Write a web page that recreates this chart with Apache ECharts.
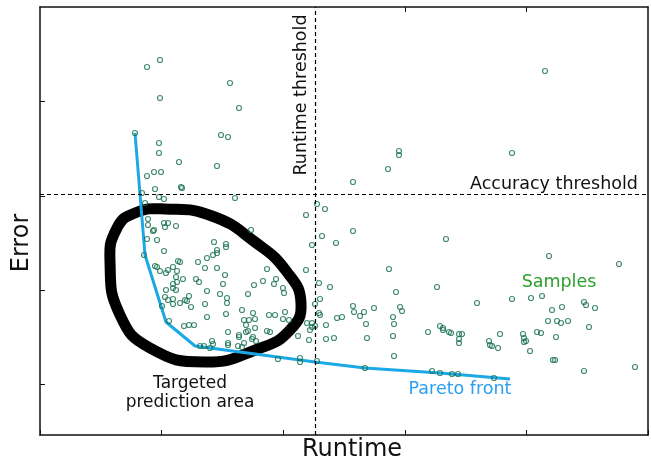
<!DOCTYPE html>
<html>
<head>
<meta charset="utf-8">
<script src="https://cdn.jsdelivr.net/npm/echarts@6/dist/echarts.min.js"></script>
<style>
html,body{margin:0;padding:0;background:#fff;}
#chart{width:651px;height:462px;}
</style>
</head>
<body>
<div id="chart"></div>
<script>
// Axis ranges (arbitrary units, axes have no labels)
const runtimeRange = [0, 608];
const errorRange = [0, 428];
const runtimeTickStep = 121.6;
const errorTicks = [50.7, 144.9, 239.1, 333.3];
const topRuntimeTicks = [364.8, 486.4];

// Thresholds
const runtimeThreshold = 275;
const accuracyThreshold = 241;

// Samples [runtime, error]
const samples = [
  [120,375],[107,368],[120,337],[190,352],[199,327],[95,302],[119,292],[119,282],[181,300],[188,298],
  [139,273],[177,269],[107,259],[114,263],[121,263],[115,246],[141,248],[142,247],[102,242],[359,284],
  [359,280],[348,266],[313,253],[505,364],[472,282],
  [105,232],[119,238],[124,236],[195,237],[277,231],[285,226],[266,220],[108,216],[108,210],[124,212],
  [128,212],[125,208],[136,209],[113,204],[114,205],[107,196],[117,195],[124,184],[104,180],[174,193],
  [186,191],[186,188],[177,185],[177,182],[173,180],[167,177],[158,173],[138,174],[140,173],[115,169],
  [117,168],[120,164],[126,162],[128,165],[133,168],[137,164],[165,167],[177,167],[211,205],[272,190],
  [266,165],[282,199],[296,192],[313,204],[227,166],[185,160],[136,158],[143,156],[156,156],[159,153],
  [137,153],[133,151],[183,151],[214,150],[223,154],[234,151],[236,156],[243,147],[244,142],[279,152],
  [290,148],[133,147],[136,145],[126,145],[125,138],[128,135],[133,136],[133,131],[140,132],[145,135],
  [147,134],[149,139],[151,128],[167,144],[165,131],[167,118],[122,129],[129,114],[144,109],[149,110],
  [154,110],[160,89],[164,89],[170,87],[172,94],[173,91],[180,141],[187,137],[187,132],[186,121],
  [202,125],[208,141],[213,122],[215,116],[209,115],[204,115],[206,110],[215,107],[229,120],[235,120],
  [245,123],[243,116],[249,115],[188,103],[199,100],[199,98],[206,103],[208,104],[227,104],[230,103],
  [213,98],[216,94],[212,96],[204,92],[198,89],[202,88],[188,92],[188,90],[258,99],[267,112],
  [272,112],[270,105],[269,95],[272,108],[275,131],[279,122],[238,76],[260,77],[260,73],[277,74],
  [280,136],[280,120],[297,117],[302,118],[286,110],[275,109],[286,96],[294,97],[313,129],[314,123],
  [320,119],[324,123],[326,111],[334,127],[327,97],[325,67],[349,166],[356,143],[360,128],[362,124],
  [353,118],[354,111],[353,99],[354,79],[397,148],[406,196],[388,103],[400,109],[403,107],[403,105],
  [409,103],[411,102],[419,101],[419,96],[419,92],[422,101],[392,64],[400,62],[412,61],[418,61],
  [437,132],[509,179],[579,171],[472,136],[491,137],[502,139],[512,125],[522,128],[544,133],[546,130],
  [555,127],[508,114],[517,114],[521,112],[528,114],[549,108],[460,101],[449,94],[450,90],[452,89],
  [458,87],[483,101],[484,97],[484,93],[486,94],[497,103],[501,102],[516,98],[490,84],[513,75],
  [515,75],[544,64],[595,68],[454,57]
];

// Pareto front [runtime, error]
const paretoFront = [[95,302],[105,180],[126,113],[155,89],[275,73],[325,67],[400,62],[470,56]];

// Targeted prediction area outline [runtime, error] (closed loop)
const targetArea = [
  [70,173],[77,207],[95,222],[125,226],[172,219],[215,193],[247,163],[261,132],[250,105],[218,86],
  [165,73],[110,87],[80,120]
];

const chart = echarts.init(document.getElementById('chart'), null, {renderer:'canvas'});
const axisLineStyle = {color:'#111', width:1.5};

const option = {
  animation:false,
  backgroundColor:'#fff',
  grid:{left:40, top:7, right:3, bottom:27, containLabel:false},
  xAxis:[
    {type:'value', min:runtimeRange[0], max:runtimeRange[1], interval:runtimeTickStep, position:'bottom',
     axisLine:{show:true, onZero:false, lineStyle:axisLineStyle},
     axisTick:{show:true, inside:true, length:5, lineStyle:{color:'#111', width:1}},
     axisLabel:{show:false}, splitLine:{show:false}},
    {type:'value', min:runtimeRange[0], max:runtimeRange[1], position:'top',
     axisLine:{show:true, onZero:false, lineStyle:axisLineStyle},
     axisTick:{show:true, inside:true, length:5, customValues:topRuntimeTicks, lineStyle:{color:'#111', width:1}},
     axisLabel:{show:false}, splitLine:{show:false}}
  ],
  yAxis:[
    {type:'value', min:errorRange[0], max:errorRange[1], position:'left',
     axisLine:{show:true, onZero:false, lineStyle:axisLineStyle},
     axisTick:{show:true, inside:true, length:5, customValues:errorTicks, lineStyle:{color:'#111', width:1}},
     axisLabel:{show:false}, splitLine:{show:false}},
    {type:'value', min:errorRange[0], max:errorRange[1], position:'right',
     axisLine:{show:true, onZero:false, lineStyle:axisLineStyle},
     axisTick:{show:false}, axisLabel:{show:false}, splitLine:{show:false}}
  ],
  series:[
    {type:'custom', name:'Targeted prediction area', data:targetArea, z:2, silent:true,
     encode:{x:0, y:1},
     renderItem:function(params, api){
       if (params.dataIndex !== 0) return null;
       const pts = targetArea.map(function(p){ return api.coord(p); });
       return {type:'polygon', shape:{points:pts, smooth:0.5},
               style:{fill:'none', stroke:'#000', lineWidth:11}};
     }},
    {type:'line', name:'Pareto front', data:paretoFront, symbol:'none', z:3,
     lineStyle:{color:'#1aa9e6', width:3}, silent:true,
     markLine:{silent:true, symbol:'none', label:{show:false},
       lineStyle:{color:'#000', type:[4,3], width:1.2},
       data:[{xAxis:runtimeThreshold},{yAxis:accuracyThreshold}]}},
    {type:'scatter', name:'Samples', data:samples, symbol:'circle', symbolSize:5, z:4,
     itemStyle:{color:'rgba(0,0,0,0)', borderColor:'#17704f', borderWidth:1.2}}
  ],
  graphic:[
    {type:'text', x:352, y:450, z:10, style:{text:'Runtime', font:'24px "DejaVu Sans"', fill:'#111', align:'center', verticalAlign:'middle'}},
    {type:'text', x:22, y:243, rotation:Math.PI/2, z:10, style:{text:'Error', font:'24px "DejaVu Sans"', fill:'#111', align:'center', verticalAlign:'middle'}},
    {type:'text', x:301, y:95, rotation:Math.PI/2, z:10, style:{text:'Runtime threshold', font:'17.5px "DejaVu Sans"', fill:'#111', align:'center', verticalAlign:'middle'}},
    {type:'text', x:554, y:184, z:10, style:{text:'Accuracy threshold', font:'17.5px "DejaVu Sans"', fill:'#111', align:'center', verticalAlign:'middle'}},
    {type:'text', x:559, y:282, z:10, style:{text:'Samples', font:'17.5px "DejaVu Sans"', fill:'#2ca02c', align:'center', verticalAlign:'middle'}},
    {type:'text', x:460, y:389, z:10, style:{text:'Pareto front', font:'17.5px "DejaVu Sans"', fill:'#2a9ef0', align:'center', verticalAlign:'middle'}},
    {type:'text', x:190, y:384, z:10, style:{text:'Targeted', font:'17px "DejaVu Sans"', fill:'#111', align:'center', verticalAlign:'middle'}},
    {type:'text', x:190, y:403, z:10, style:{text:'prediction area', font:'17px "DejaVu Sans"', fill:'#111', align:'center', verticalAlign:'middle'}}
  ]
};
chart.setOption(option);
</script>
</body>
</html>
